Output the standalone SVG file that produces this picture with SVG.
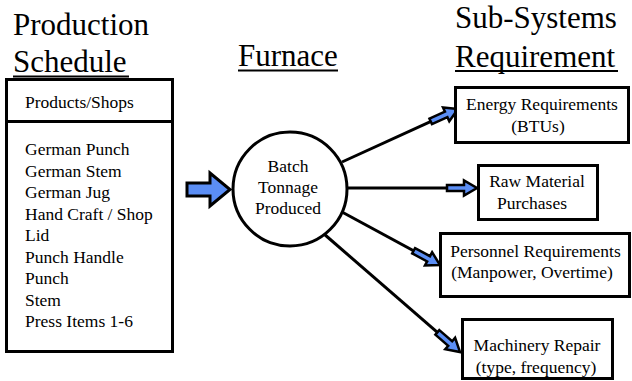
<svg xmlns="http://www.w3.org/2000/svg" width="632" height="381" viewBox="0 0 632 381">
<style>
text{fill:#000;font-family:Liberation Serif,Times New Roman,Times,serif}
.title{font-size:31px}
.t{font-size:17.5px}
.box{fill:#fff;stroke:#000;stroke-width:3}
.conn{stroke:#000;stroke-width:3;fill:none}
.ul{stroke:#000;stroke-width:2}
</style>
<defs>
<marker id="blk" markerUnits="userSpaceOnUse" viewBox="-2 -10 36 20" markerWidth="36" markerHeight="20" refX="10" refY="0" orient="auto">
<path d="M0,-3 L17,-3 L17,-7.5 L30,0 L17,7.5 L17,3 L0,3 Z" fill="#5b8ef5" stroke="#000" stroke-width="2.5" stroke-linejoin="miter"/>
</marker>
</defs>
<rect width="632" height="381" fill="#fff"/>
<g id="titles">
<text class="title" x="13" y="35">Production</text>
<text class="title" x="13" y="72">Schedule</text>
<line class="ul" x1="13" y1="76.5" x2="129" y2="76.5"/>
<text class="title" x="238" y="66">Furnace</text>
<line class="ul" x1="238" y1="70.5" x2="338" y2="70.5"/>
<text class="title" x="455" y="28">Sub-Systems</text>
<text class="title" x="455" y="67">Requirement</text>
<line class="ul" x1="455" y1="71" x2="618" y2="71"/>
</g>
<g id="schedule">
<rect class="box" x="6.5" y="79.5" width="166" height="272"/>
<line x1="6.5" y1="121.5" x2="172.5" y2="121.5" stroke="#000" stroke-width="3"/>
<text class="t" x="25" y="108">Products/Shops</text>
<text class="t" x="25" y="155">German Punch</text>
<text class="t" x="25" y="176.5">German Stem</text>
<text class="t" x="25" y="198">German Jug</text>
<text class="t" x="25" y="219.5">Hand Craft / Shop</text>
<text class="t" x="25" y="241">Lid</text>
<text class="t" x="25" y="262.5">Punch Handle</text>
<text class="t" x="25" y="284">Punch</text>
<text class="t" x="25" y="305.5">Stem</text>
<text class="t" x="25" y="327">Press Items 1-6</text>
</g>
<g id="input-arrow">
<polygon points="187,183 210,183 210,173 230,189.5 210,206 210,196 187,196" fill="#5b8ef5" stroke="#000" stroke-width="3"/>
</g>
<g id="furnace">
<circle cx="290" cy="189" r="57" fill="#fff" stroke="#000" stroke-width="3"/>
<text class="t" x="288" y="172" text-anchor="middle">Batch</text>
<text class="t" x="288" y="193" text-anchor="middle">Tonnage</text>
<text class="t" x="288" y="214" text-anchor="middle">Produced</text>
</g>
<g id="connectors">
<line class="conn" x1="342" y1="162" x2="439.8" y2="117.3" marker-end="url(#blk)"/>
<line class="conn" x1="347" y1="188" x2="457" y2="188" marker-end="url(#blk)"/>
<line class="conn" x1="342" y1="212" x2="422.4" y2="255.5" marker-end="url(#blk)"/>
<line class="conn" x1="324" y1="234" x2="444.9" y2="338.9" marker-end="url(#blk)"/>
</g>
<g id="energy">
<rect class="box" x="455.5" y="87.5" width="173" height="55"/>
<text class="t" x="542" y="110" text-anchor="middle">Energy Requirements</text>
<text class="t" x="538" y="132" text-anchor="middle">(BTUs)</text>
</g>
<g id="raw">
<rect class="box" x="478.5" y="165.5" width="119" height="54"/>
<text class="t" x="537" y="187" text-anchor="middle">Raw Material</text>
<text class="t" x="532" y="209" text-anchor="middle">Purchases</text>
</g>
<g id="personnel">
<rect class="box" x="440.5" y="233.5" width="189" height="63"/>
<text class="t" x="535.5" y="257" text-anchor="middle">Personnel Requirements</text>
<text class="t" x="532" y="278" text-anchor="middle">(Manpower, Overtime)</text>
</g>
<g id="machinery">
<rect class="box" x="462.5" y="319.5" width="150" height="59"/>
<text class="t" x="537" y="351" text-anchor="middle">Machinery Repair</text>
<text class="t" x="536" y="373" text-anchor="middle">(type, frequency)</text>
</g>
</svg>
